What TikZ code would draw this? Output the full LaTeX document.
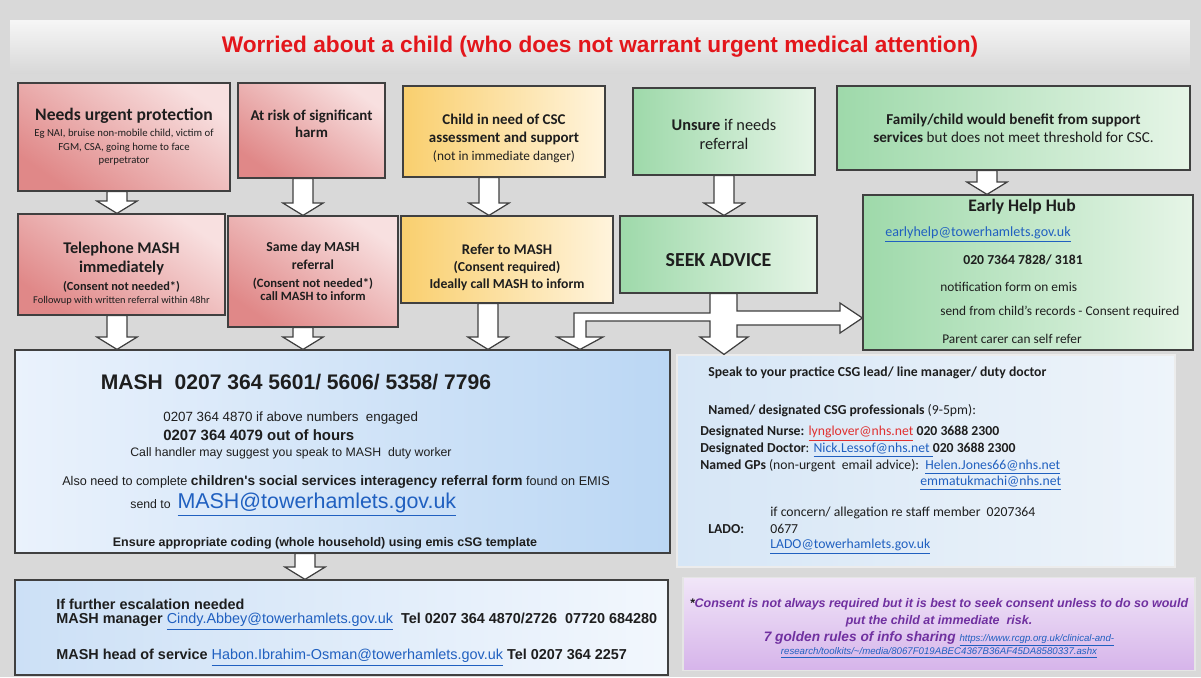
\documentclass[tikz,border=0pt]{standalone}
\usepackage{fontspec}
\setmainfont{Carlito}
\newfontfamily\arialfont{Liberation Sans}
\usepackage{tikz}
\usetikzlibrary{calc}

\definecolor{bggrey}{HTML}{D9D9D9}
\definecolor{headtop}{HTML}{F6F6F6}
\definecolor{headbot}{HTML}{D8D8D8}
\definecolor{titlered}{HTML}{E3161B}
\definecolor{pinklight}{HTML}{F8E0E0}
\definecolor{pinkdark}{HTML}{E08888}
\definecolor{goldl}{HTML}{F9CF6E}
\definecolor{goldr}{HTML}{FFF4DD}
\definecolor{greenl}{HTML}{9ED9AA}
\definecolor{greenr}{HTML}{E6F5E7}
\definecolor{mashl}{HTML}{EAF2FC}
\definecolor{mashr}{HTML}{BBD7F4}
\definecolor{advl}{HTML}{D6E6F6}
\definecolor{advr}{HTML}{EEF4FA}
\definecolor{escl}{HTML}{CCE0F6}
\definecolor{escr}{HTML}{F2F7FD}
\definecolor{constop}{HTML}{F1E6F8}
\definecolor{consbot}{HTML}{D6B4EA}
\definecolor{linkblue}{HTML}{2060C0}
\definecolor{nursered}{HTML}{E03030}
\definecolor{purpletxt}{HTML}{7030A0}
\definecolor{txtdark}{HTML}{1E1E1E}
\definecolor{boxline}{HTML}{404040}

\newcommand{\fsz}[2]{\fontsize{#1}{#2}\selectfont}
\newcommand{\lnk}[1]{\textcolor{linkblue}{\underline{#1}}}
% white block arrow pointing down, at x (px) from one box to the next
\newcommand{\blockdown}[3]{%
  \draw[fatarrow] let \p1=(#2.south), \p2=(#3.north), \p3=(#1,0) in
    (\x3-5.7pt,\y1) -- (\x3+5.7pt,\y1) -- (\x3+5.7pt,\y2+7pt) -- (\x3+11.4pt,\y2+7pt)
    -- (\x3,\y2) -- (\x3-11.4pt,\y2+7pt) -- (\x3-5.7pt,\y2+7pt) -- cycle;}

\begin{document}
\begin{tikzpicture}[
    x=0.02cm, y=-0.02cm,
    box/.style={rectangle, draw=boxline, line width=0.7pt, align=center, text=txtdark, inner sep=2pt},
    redbox/.style={box, top color=pinklight, bottom color=pinkdark, shading angle=-35},
    goldbox/.style={box, left color=goldl, right color=goldr},
    greenbox/.style={box, left color=greenl, right color=greenr},
    mashbox/.style={box, left color=mashl, right color=mashr},
    advbox/.style={box, draw=white!85!gray, left color=advl, right color=advr},
    escbox/.style={box, left color=escl, right color=escr},
    consbox/.style={box, draw=white!80!gray, top color=constop, bottom color=consbot},
    headbar/.style={rectangle, top color=headtop, bottom color=headbot},
    txt/.style={inner sep=0pt, text=txtdark},
    fatarrow/.style={draw=boxline, fill=white, line width=0.7pt}
]
\useasboundingbox (0,0) rectangle (1201,677);
\fill[bggrey] (0,0) rectangle (1201,677);

% header
\node[headbar, minimum width=23.6cm, minimum height=1.06cm, text=titlered,
      font=\arialfont\fsz{12.9}{15}\bfseries] (head) at (600,47)
  {Worried about a child (who does not warrant urgent medical attention)};

% first row
\node[redbox, font=\fsz{6.1}{7.6}, minimum width=4.24cm, minimum height=2.16cm] (needs) at (124,137)
  {\fsz{10}{12}\bfseries Needs urgent protection\\[1.5pt]Eg NAI, bruise non-mobile child, victim of\\FGM, CSA, going home to face\\perpetrator};
\node[redbox, font=\fsz{8.5}{9.7}\bfseries, minimum width=2.94cm, minimum height=1.9cm] (risk) at (311.5,130.5)
  {At risk of significant\\harm\rule[-8pt]{0pt}{1pt}};
\node[goldbox, font=\fsz{7.6}{10.3}, minimum width=4.04cm, minimum height=1.82cm] (cin) at (504,131.5)
  {\rule{0pt}{14pt}\fsz{8.5}{10}\bfseries Child in need of CSC\\\fsz{8.5}{10}\bfseries assessment and support\\(not in immediate danger)};
\node[greenbox, font=\fsz{9.3}{10.8}, minimum width=3.64cm, minimum height=1.74cm] (unsure) at (724,131.5)
  {\rule{0pt}{10pt}\textbf{Unsure} if needs\\referral};
\node[greenbox, font=\fsz{8.6}{10.2}, minimum width=7.06cm, minimum height=1.68cm] (family) at (1013.5,128)
  {\textbf{Family/child would benefit from support}\\\textbf{services} but does not meet threshold for CSC.};

% second row
\node[redbox, font=\fsz{5.9}{11.2}, minimum width=4.14cm, minimum height=2.02cm] (phone) at (121.5,264.5)
  {\rule{0pt}{17pt}\fsz{9.3}{11}\bfseries Telephone MASH\\\fsz{9.3}{11}\bfseries immediately\\[-1pt]\fsz{7}{8}\bfseries (Consent not needed*)\\[-3.8pt]Followup with written referral within 48hr};
\node[redbox, font=\fsz{7.8}{10.3}\bfseries, minimum width=3.4cm, minimum height=2.22cm] (sameday) at (313,271.5)
  {Same day MASH\\referral\\\fsz{7.2}{8}(Consent not needed*)\\[-3pt]\fsz{7.2}{8}call MASH to inform};
\node[goldbox, font=\fsz{7.8}{9.7}\bfseries, minimum width=4.24cm, minimum height=1.74cm] (refer) at (507,259.5)
  {\rule{0pt}{15pt}\fsz{8.4}{10}Refer to MASH\\(Consent required)\\Ideally call MASH to inform};
\node[greenbox, font=\fsz{11.3}{13}\bfseries, minimum width=3.94cm, minimum height=1.54cm] (seek) at (718.5,254.5)
  {\rule{0pt}{14pt}SEEK ADVICE};
\node[greenbox, minimum width=6.6cm, minimum height=3.1cm] (hub) at (1028,272.5) {};
\node[txt, font=\fsz{10}{12}\bfseries] (hubtitle) at (1022,207) {Early Help Hub};
\node[txt, anchor=west, font=\fsz{8}{9}] (hubmail) at (885,235) {\lnk{earlyhelp@towerhamlets.gov.uk}};
\node[txt, font=\fsz{7.8}{9}\bfseries] (hubtel) at (1023,260) {020 7364 7828/ 3181};
\node[txt, anchor=west, font=\fsz{7.6}{9}] (hubform) at (940,287) {notification form on emis};
\node[txt, anchor=west, font=\fsz{7.6}{9}] (hubsend) at (940,312) {send from child's records - Consent required};
\node[txt, anchor=west, font=\fsz{7.6}{9}] (hubself) at (942,339) {Parent carer can self refer};

% MASH box
\node[mashbox, minimum width=13.1cm, minimum height=4.06cm] (mash) at (342.5,451.5) {};
\node[txt, font=\arialfont\fsz{12}{14}\bfseries] (mashhead) at (296,382) {MASH\ \ 0207 364 5601/ 5606/ 5358/ 7796};
\node[txt, anchor=west, font=\arialfont\fsz{7.6}{9}] (mashbusy) at (163,418) {0207 364 4870 if above numbers\ \ engaged};
\node[txt, anchor=west, font=\arialfont\fsz{8.5}{10}\bfseries] (mashooh) at (163,435) {0207 364 4079 out of hours};
\node[txt, font=\arialfont\fsz{7}{9}] (mashcall) at (291,453) {Call handler may suggest you speak to MASH\ \ duty worker};
\node[txt, font=\arialfont\fsz{7.2}{9}] (mashform) at (336,482)
  {Also need to complete {\fsz{7.8}{9}\bfseries children's social services interagency referral form} found on EMIS};
\node[txt, anchor=west, font=\arialfont\fsz{7}{9}] (mashsend) at (130,505) {send to\ \ {\fsz{12.2}{14}\lnk{MASH@towerhamlets.gov.uk}}};
\node[txt, font=\arialfont\fsz{7.1}{8}\bfseries] (mashcode) at (325,543) {Ensure appropriate coding (whole household) using emis cSG template};

% advice box
\node[advbox, minimum width=9.96cm, minimum height=4.24cm] (advice) at (926,461) {};
\node[txt, anchor=west, font=\fsz{7.8}{9}\bfseries] (advspeak) at (708,373) {Speak to your practice CSG lead/ line manager/ duty doctor};
\node[txt, anchor=west, font=\fsz{7.8}{9}] (advnamed) at (708,411) {\textbf{Named/ designated CSG professionals} (9-5pm):};
\node[txt, anchor=west, font=\fsz{7.8}{9}] (advnurse) at (700,434)
  {\textbf{Designated\ Nurse:} \textcolor{nursered}{\underline{lynglover@nhs.net}} \textbf{020 3688 2300}};
\node[txt, anchor=west, font=\fsz{7.8}{9}] (advdoctor) at (700,450)
  {\textbf{Designated Doctor}: \lnk{Nick.Lessof@nhs.net }\textbf{020 3688 2300}};
\node[txt, anchor=west, font=\fsz{7.8}{9}] (advgps) at (700,467)
  {\textbf{Named GPs} (non-urgent\ \ email advice):\ \ \lnk{Helen.Jones66@nhs.net}};
\node[txt, anchor=west, font=\fsz{7.8}{9}] (advemma) at (920,483) {\lnk{emmatukmachi@nhs.net}};
\node[txt, anchor=west, font=\fsz{7.8}{9}\bfseries] (advlado) at (708,529) {LADO:};
\node[txt, anchor=west, font=\fsz{7.8}{9}] (advconcern) at (770,513) {if concern/ allegation re staff member\ \ 0207364};
\node[txt, anchor=west, font=\fsz{7.8}{9}] (advladotel) at (770,529) {0677};
\node[txt, anchor=west, font=\fsz{7.8}{9}] (advladomail) at (770,547) {\lnk{LADO@towerhamlets.gov.uk}};

% escalation box
\node[escbox, minimum width=13.06cm, minimum height=1.9cm] (escal) at (341.5,627.5) {};
\node[txt, anchor=west, font=\arialfont\fsz{8.2}{9}\bfseries] (escneed) at (56,604) {If further escalation needed};
\node[txt, anchor=west, font=\arialfont\fsz{8.2}{9}\bfseries] (escmgr) at (56,622)
  {MASH manager {\mdseries\lnk{Cindy.Abbey@towerhamlets.gov.uk}}\ \ Tel 0207 364 4870/2726\ \ 07720 684280};
\node[txt, anchor=west, font=\arialfont\fsz{8.2}{9}\bfseries] (eschead) at (56,658)
  {MASH head of service {\mdseries\lnk{Habon.Ibrahim-Osman@towerhamlets.gov.uk}} Tel 0207 364 2257};

% consent box
\node[consbox, minimum width=10.24cm, minimum height=1.86cm] (consent) at (939,624) {};
\node[txt, text=purpletxt, font=\arialfont\fsz{7.1}{8}\bfseries\itshape] (consnote) at (939,604)
  {{\color{txtdark}*}Consent is not always required but it is best to seek consent unless to do so would};
\node[txt, text=purpletxt, font=\arialfont\fsz{7.1}{8}\bfseries\itshape] (consrisk) at (939,621) {put the child at immediate\ \ risk.};
\node[txt, text=purpletxt, font=\arialfont\fsz{7.8}{9}\bfseries\itshape] (consrules) at (939,639)
  {7 golden rules of info sharing {\fsz{5.5}{6}\mdseries\lnk{https://www.rcgp.org.uk/clinical-and-}}};
\node[txt, font=\arialfont\fsz{5.5}{6}\itshape] (consurl) at (939,653)
  {\lnk{research/toolkits/\textasciitilde/media/8067F019ABEC4367B36AF45DA8580337.ashx}};

% arrows
\blockdown{117}{needs}{phone}
\blockdown{303}{risk}{sameday}
\blockdown{489}{cin}{refer}
\blockdown{724}{unsure}{seek}
\blockdown{987}{family}{hub}
\blockdown{117}{phone}{mash}
\blockdown{303}{sameday}{mash}
\blockdown{488}{refer}{mash}
\blockdown{305}{mash}{escal}
\draw[fatarrow] (710,0 |- seek.south) -- (737,0 |- seek.south) -- (737,311) -- (840,311) -- (840,303)
  -- (hub.west |- 0,318) -- (840,333) -- (840,325) -- (737,325) -- (737,337) -- (748,337)
  -- (724,0 |- advice.north) -- (700,337) -- (710,337) -- (710,321) -- (586,321) -- (586,337)
  -- (603,337) -- (580,0 |- mash.north) -- (557,337) -- (574,337) -- (574,313) -- (710,313) -- cycle;

\end{tikzpicture}
\end{document}
